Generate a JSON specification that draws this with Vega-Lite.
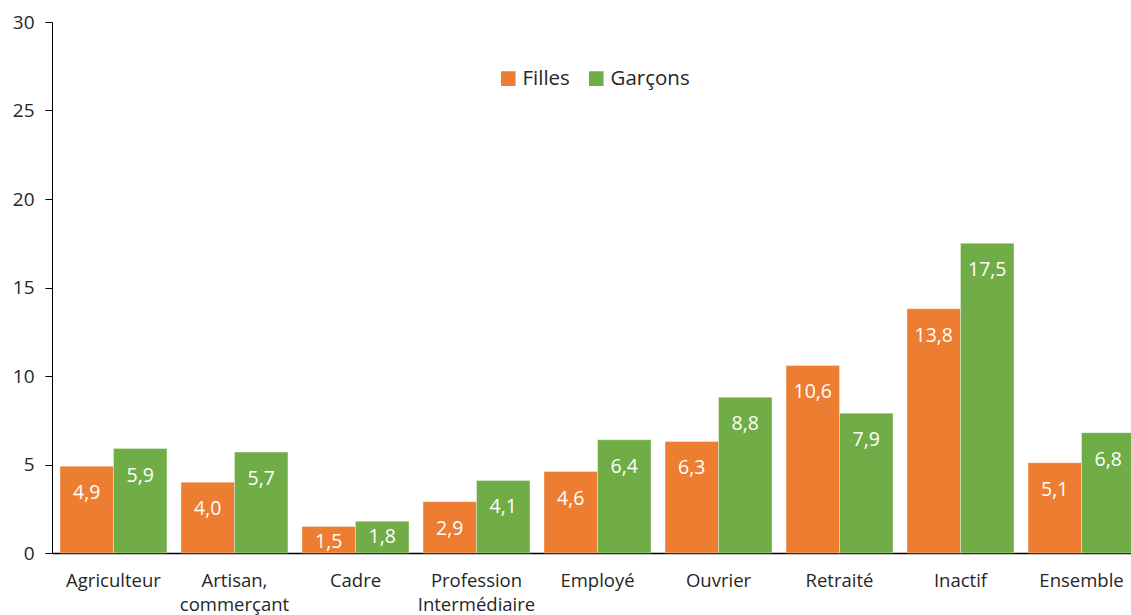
{
  "$schema": "https://vega.github.io/schema/vega-lite/v6.json",
  "width": 1079,
  "height": 531,
  "autosize": "none",
  "padding": {"left": 52, "top": 22, "right": 0, "bottom": 62},
  "background": "white",
  "config": {
    "view": {"stroke": null},
    "font": "Open Sans",
    "locale": {"number": {"decimal": ",", "thousands": " ", "grouping": [3], "currency": ["", " €"]}}
  },
  "data": {
    "values": [
      {"cat": "Agriculteur", "sexe": "Filles", "v": 4.9},
      {"cat": "Agriculteur", "sexe": "Garçons", "v": 5.9},
      {"cat": "Artisan,|commerçant", "sexe": "Filles", "v": 4.0},
      {"cat": "Artisan,|commerçant", "sexe": "Garçons", "v": 5.7},
      {"cat": "Cadre", "sexe": "Filles", "v": 1.5},
      {"cat": "Cadre", "sexe": "Garçons", "v": 1.8},
      {"cat": "Profession|Intermédiaire", "sexe": "Filles", "v": 2.9},
      {"cat": "Profession|Intermédiaire", "sexe": "Garçons", "v": 4.1},
      {"cat": "Employé", "sexe": "Filles", "v": 4.6},
      {"cat": "Employé", "sexe": "Garçons", "v": 6.4},
      {"cat": "Ouvrier", "sexe": "Filles", "v": 6.3},
      {"cat": "Ouvrier", "sexe": "Garçons", "v": 8.8},
      {"cat": "Retraité", "sexe": "Filles", "v": 10.6},
      {"cat": "Retraité", "sexe": "Garçons", "v": 7.9},
      {"cat": "Inactif", "sexe": "Filles", "v": 13.8},
      {"cat": "Inactif", "sexe": "Garçons", "v": 17.5},
      {"cat": "Ensemble", "sexe": "Filles", "v": 5.1},
      {"cat": "Ensemble", "sexe": "Garçons", "v": 6.8}
    ]
  },
  "encoding": {
    "x": {
      "field": "cat", "type": "nominal", "sort": null,
      "scale": {"paddingInner": 0.116, "paddingOuter": 0.066, "range": [0, 1091]},
      "axis": {
        "title": null, "labelAngle": 0, "ticks": false, "domainColor": "#000000", "domainWidth": 1.3,
        "labelFontSize": 18.5, "labelColor": "#262626", "labelPadding": 18, "labelLineHeight": 24,
        "labelExpr": "split(datum.label, '|')", "labelFont": "Open Sans"
      }
    },
    "xOffset": {"field": "sexe", "type": "nominal", "scale": {"paddingInner": 0, "paddingOuter": 0}},
    "y": {
      "field": "v", "type": "quantitative",
      "scale": {"domain": [0, 30], "nice": false},
      "axis": {
        "title": null, "values": [0, 5, 10, 15, 20, 25, 30], "grid": false,
        "domainColor": "#000000", "tickColor": "#000000", "tickSize": 7,
        "labelFontSize": 19, "labelColor": "#262626", "labelPadding": 11, "labelFont": "Open Sans"
      }
    },
    "color": {
      "field": "sexe", "type": "nominal",
      "scale": {"domain": ["Filles", "Garçons"], "range": ["#ED7D31", "#70AD47"]},
      "legend": {
        "title": null, "orient": "none", "legendX": 446, "legendY": 46, "direction": "horizontal",
        "symbolType": "square", "symbolSize": 260, "symbolOpacity": 1, "labelFontSize": 20.5,
        "labelColor": "#262626", "columnPadding": 15, "labelOffset": 4, "labelFont": "Open Sans"
      }
    }
  },
  "layer": [
    {"mark": {"type": "bar", "stroke": "#ffffff", "strokeWidth": 0.6, "strokeOpacity": 0.6}},
    {
      "transform": [{"filter": "datum.v >= 2"}],
      "mark": {"type": "text", "baseline": "middle", "dy": 27, "color": "white", "fontSize": 19.5, "font": "Open Sans"},
      "encoding": {"text": {"field": "v", "type": "quantitative", "format": ".1f"}, "color": {"value": "white"}}
    },
    {
      "transform": [{"filter": "datum.v < 2"}],
      "mark": {"type": "text", "baseline": "middle", "dy": 16, "color": "white", "fontSize": 19.5, "font": "Open Sans"},
      "encoding": {"text": {"field": "v", "type": "quantitative", "format": ".1f"}, "color": {"value": "white"}}
    }
  ]
}
